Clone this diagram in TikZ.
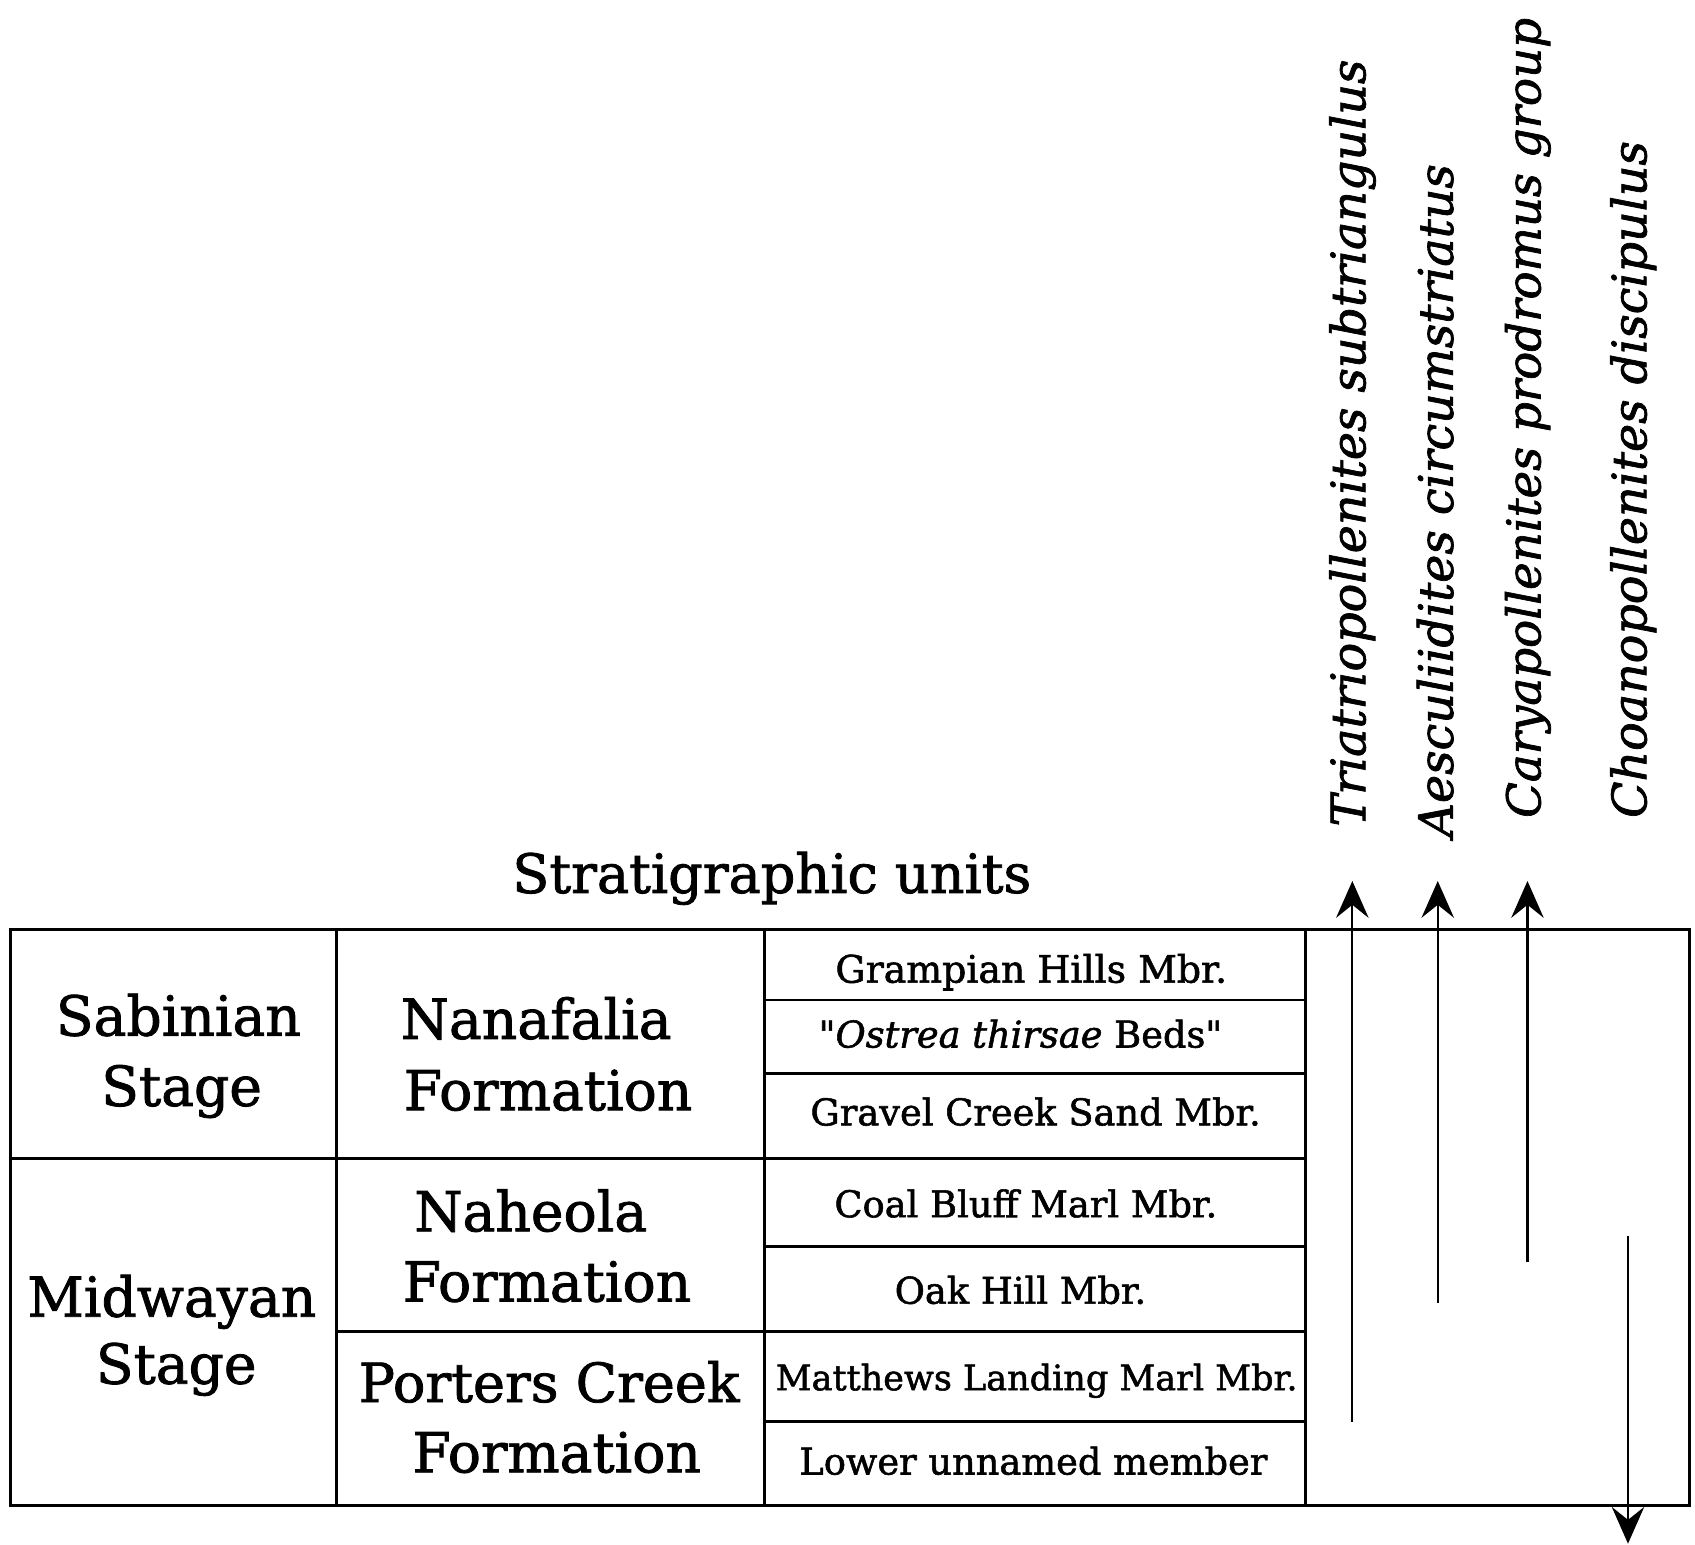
\documentclass[tikz,border=0pt]{standalone}
\usepackage{fontspec}
\setmainfont[Ligatures=TeXOff,FakeBold=1.5]{DejaVu Serif}
\usetikzlibrary{arrows.meta}
\begin{document}
\begin{tikzpicture}[x=0.5pt,y=-0.5pt,
  bigtxt/.style={font=\fontsize{25.5}{30}\selectfont, inner sep=0pt, anchor=base},
  mbrtxt/.style={font=\fontsize{17}{20}\selectfont, inner sep=0pt, anchor=base},
  taxontxt/.style={font=\fontsize{22}{26}\selectfont\itshape, inner sep=0pt, rotate=90, anchor=base west},
  tableline/.style={line width=1.3pt},
  rangeline/.style={line width=1pt},
  arrtip/.style={-{Stealth[length=17pt,width=15pt,inset=6pt]}}
]
\useasboundingbox (0,0) rectangle (1568,1429);

% table frame
\draw[tableline] (10,860) rectangle (1563,1393);
\draw[tableline] (311,860) -- (311,1393);
\draw[tableline] (707,860) -- (707,1393);
\draw[tableline] (1208,860) -- (1208,1393);
\draw[tableline] (10,1072) -- (1208,1072);
\draw[tableline] (311,1232) -- (1208,1232);
\draw[tableline] (707,925) -- (1208,925);
\draw[tableline] (707,993) -- (1208,993);
\draw[tableline] (707,1153) -- (1208,1153);
\draw[tableline] (707,1315) -- (1208,1315);

% title
\node[bigtxt, font=\fontsize{25}{30}\selectfont] (title) at (714,826) {Stratigraphic units};

% stages
\node[bigtxt] (sab1) at (165,958) {Sabinian};
\node[bigtxt] (sab2) at (168,1023) {Stage};
\node[bigtxt] (mid1) at (159,1218) {Midwayan};
\node[bigtxt] (mid2) at (163,1280) {Stage};

% formations
\node[bigtxt] (nan1) at (496,961) {Nanafalia};
\node[bigtxt] (nan2) at (507,1027) {Formation};
\node[bigtxt] (nah1) at (491,1139) {Naheola};
\node[bigtxt] (nah2) at (506,1204) {Formation};
\node[bigtxt, font=\fontsize{25}{30}\selectfont] (por1) at (508,1297) {Porters Creek};
\node[bigtxt] (por2) at (515,1362) {Formation};

% members
\node[mbrtxt, font=\fontsize{17.5}{20}\selectfont] (m1) at (954,909) {Grampian Hills Mbr.};
\node[mbrtxt] (m2) at (944,969) {"\textit{Ostrea thirsae} Beds"};
\node[mbrtxt] (m3) at (958,1041) {Gravel Creek Sand Mbr.};
\node[mbrtxt] (m4) at (949,1126) {Coal Bluff Marl Mbr.};
\node[mbrtxt] (m5) at (944,1206) {Oak Hill Mbr.};
\node[mbrtxt, font=\fontsize{16.2}{20}\selectfont] (m6) at (959,1286) {Matthews Landing Marl Mbr.};
\node[mbrtxt] (m7) at (956,1364) {Lower unnamed member};

% taxa
\node[taxontxt] (t1) at (1263,765) {Triatriopollenites subtriangulus};
\node[taxontxt] (t2) at (1344,775) {Aesculiidites circumstriatus};
\node[taxontxt, font=\fontsize{21.6}{26}\selectfont\itshape] (t3) at (1425,757) {Caryapollenites prodromus group};
\node[taxontxt] (t4) at (1523,757) {Choanopollenites discipulus};

% range lines
\coordinate (a1s) at (1251,1315);
\coordinate (a1e) at (1251,815);
\coordinate (a2s) at (1330,1205);
\coordinate (a2e) at (1330,815);
\coordinate (a3s) at (1413,1167);
\coordinate (a3e) at (1413,815);
\coordinate (a4s) at (1506,1143);
\coordinate (a4e) at (1506,1428);
\draw[rangeline,arrtip] (a1s) -- (a1e);
\draw[rangeline,arrtip] (a2s) -- (a2e);
\draw[rangeline,arrtip] (a3s) -- (a3e);
\draw[rangeline,arrtip] (a4s) -- (a4e);
\end{tikzpicture}
\end{document}
